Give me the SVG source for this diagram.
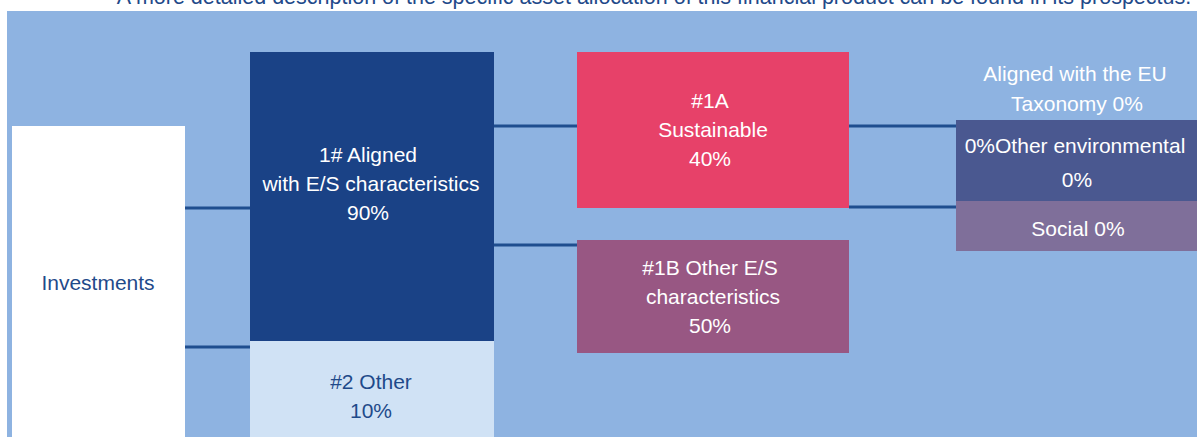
<svg xmlns="http://www.w3.org/2000/svg" width="1197" height="437" viewBox="0 0 1197 437">
<style>
text{font-family:"Liberation Sans",Arial,sans-serif;font-size:21px;text-anchor:middle}
.w{fill:#ffffff}
.d{fill:#1F4A8A}
.c{stroke:#1F4E8F;stroke-width:3;fill:none}
</style>
<rect x="0" y="0" width="1197" height="437" fill="#ffffff"/>
<text x="654" y="4" class="d" style="font-size:21.5px">A more detailed description of the specific asset allocation of this financial product can be found in its prospectus.</text>
<rect x="7" y="11" width="1190" height="426" fill="#8EB3E1"/>
<g id="connectors">
<line class="c" x1="185" y1="208" x2="250" y2="208"/>
<line class="c" x1="185" y1="347" x2="250" y2="347"/>
<line class="c" x1="494" y1="126" x2="577" y2="126"/>
<line class="c" x1="494" y1="245" x2="577" y2="245"/>
<line class="c" x1="849" y1="126" x2="956" y2="126"/>
<line class="c" x1="849" y1="207" x2="956" y2="207"/>
</g>
<g id="investments">
<rect x="12" y="126" width="173" height="311" fill="#ffffff"/>
<text x="98" y="290" class="d">Investments</text>
</g>
<g id="aligned">
<rect x="250" y="52" width="244" height="289" fill="#1A4286"/>
<text x="368" y="162" class="w">1# Aligned</text>
<text x="371" y="191" class="w">with E/S characteristics</text>
<text x="368" y="220" class="w">90%</text>
</g>
<g id="other">
<rect x="250" y="341" width="244" height="96" fill="#D0E2F5"/>
<text x="371" y="389" class="d">#2 Other</text>
<text x="371" y="418" class="d">10%</text>
</g>
<g id="sustainable">
<rect x="577" y="52" width="272" height="156" fill="#E74169"/>
<text x="710" y="108" class="w">#1A</text>
<text x="713" y="137" class="w">Sustainable</text>
<text x="710" y="166" class="w">40%</text>
</g>
<g id="other-es">
<rect x="577" y="240" width="272" height="113" fill="#985783"/>
<text x="710" y="275" class="w">#1B Other E/S</text>
<text x="713" y="304" class="w">characteristics</text>
<text x="710" y="333" class="w">50%</text>
</g>
<g id="taxonomy">
<text x="1075" y="81" class="w">Aligned with the EU</text>
<text x="1077" y="111" class="w">Taxonomy 0%</text>
</g>
<g id="other-env">
<rect x="956" y="120" width="241" height="81" fill="#4A5890"/>
<text x="1075" y="153" class="w">0%Other environmental</text>
<text x="1077" y="187" class="w">0%</text>
</g>
<g id="social">
<rect x="956" y="201" width="241" height="50" fill="#7F6F9A"/>
<text x="1078" y="236" class="w">Social 0%</text>
</g>
</svg>
